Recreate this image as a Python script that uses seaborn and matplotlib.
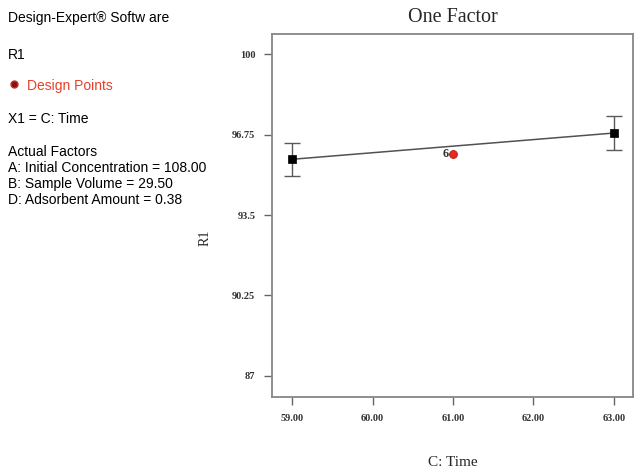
import matplotlib
matplotlib.use("Agg")
import matplotlib.pyplot as plt
from matplotlib.lines import Line2D
import seaborn as sns
import pandas as pd

# predicted response at the factor ends, with the error bar half-widths
time_levels = [59.0, 63.0]
r1_pred = [95.75, 96.81]
r1_err = [0.67, 0.67]

# design point at the centre (6 replicates)
design_time = [61.0]
design_r1 = [95.97]
design_label = "6"

x_ticks = [59.00, 60.00, 61.00, 62.00, 63.00]
y_ticks = [87, 90.25, 93.5, 96.75, 100]
y_tick_labels = ["87", "90.25", "93.5", "96.75", "100"]

info_lines = [
    ("Design-Expert\u00ae Softw are", 18),
    ("R1", 55),
    ("X1 = C: Time", 119),
    ("Actual Factors", 152),
    ("A: Initial Concentration = 108.00", 168),
    ("B: Sample Volume = 29.50", 184),
    ("D: Adsorbent Amount = 0.38", 200),
]

sns.set_style("white")
plt.rcParams["font.family"] = ["Liberation Serif", "DejaVu Serif"]

fig = plt.figure(figsize=(6.36, 4.72), dpi=100)
ax = fig.add_axes([272 / 636, 1 - 397 / 472, 361 / 636, 363 / 472])

pred = pd.DataFrame({"time": time_levels, "r1": r1_pred})
sns.lineplot(data=pred, x="time", y="r1", color="#555050", linewidth=1.1, ax=ax)
ax.errorbar(time_levels, r1_pred, yerr=r1_err, fmt="none", ecolor="#5a5a5a",
            elinewidth=1.0, capsize=6, capthick=1.0, zorder=3)
sns.scatterplot(data=pred, x="time", y="r1", marker="s", s=40, color="black",
                edgecolor="black", zorder=4, ax=ax)

design = pd.DataFrame({"time": design_time, "r1": design_r1})
sns.scatterplot(data=design, x="time", y="r1", marker="o", s=32, color="#e8281c",
                edgecolor="#b01810", linewidth=0.6, zorder=5, ax=ax)
ax.text(design_time[0] - 0.05, design_r1[0], design_label, ha="right", va="center",
        fontsize=9, fontweight="bold", color="#333333")

ax.set_xlim(58.75, 63.24)
ax.set_ylim(86.15, 100.81)
ax.set_xticks(x_ticks)
ax.set_xticklabels([f"{t:.2f}" for t in x_ticks], fontsize=7.5, fontweight="bold",
                   color="#333333")
ax.set_yticks(y_ticks)
ax.set_yticklabels(y_tick_labels, fontsize=7.5, fontweight="bold", color="#333333")
ax.tick_params(axis="both", direction="out", length=6, width=1, color="#666666",
               bottom=True, left=True, pad=6)
for sp in ax.spines.values():
    sp.set_color("#8a8585")
    sp.set_linewidth(1.3)

ax.set_xlabel("")
ax.set_ylabel("")
fig.text(453 / 636, 1 - 18 / 472, "One Factor", ha="center", va="center", fontsize=14.5)
fig.text(453 / 636, 1 - 462 / 472, "C: Time", ha="center", va="center", fontsize=11)
fig.text(205 / 636, 1 - 238 / 472, "R1", ha="center", va="center", fontsize=10,
         rotation=90)

sans = ["Liberation Sans", "DejaVu Sans"]
for txt, y in info_lines:
    fig.text(8 / 636, 1 - y / 472, txt, ha="left", va="center", fontsize=10,
             family=sans, color="black")
fig.text(27 / 636, 1 - 86 / 472, "Design Points", ha="left", va="center",
         fontsize=10, family=sans, color="#e8402a")
fig.add_artist(Line2D([14 / 636], [1 - 84 / 472], transform=fig.transFigure,
                      marker="o", markersize=5, markerfacecolor="#8a1010",
                      markeredgecolor="#c03030", linestyle="none"))

fig.savefig("out.png", dpi=100)
